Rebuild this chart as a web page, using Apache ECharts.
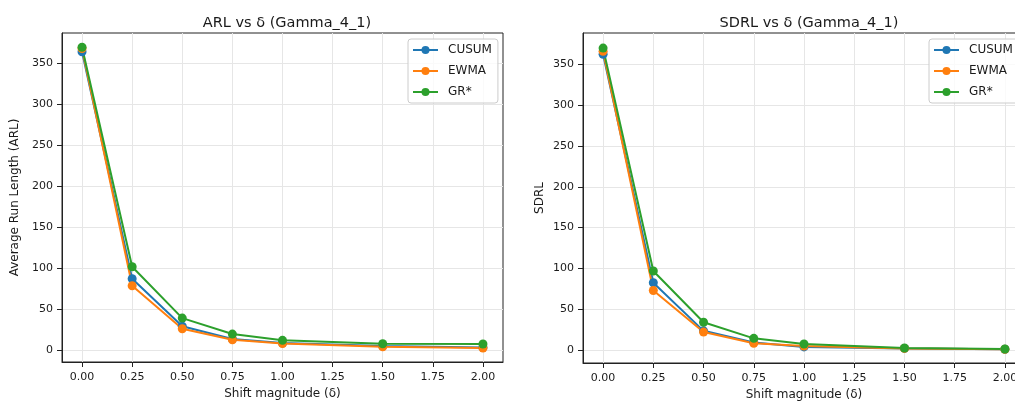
<!DOCTYPE html>
<html>
<head>
<meta charset="utf-8">
<script src="https://cdn.jsdelivr.net/npm/echarts@6/dist/echarts.min.js"></script>
<style>
html,body{margin:0;padding:0;background:#fff;}
#chart{width:1015px;height:402px;}
</style>
</head>
<body>
<div id="chart"></div>
<script>
// Shift magnitudes (x values)
const shifts = [0, 0.25, 0.5, 0.75, 1.0, 1.5, 2.0];
const xTicks = [0, 0.25, 0.5, 0.75, 1.0, 1.25, 1.5, 1.75, 2.0];
const yTicks = [0, 50, 100, 150, 200, 250, 300, 350];
const seriesNames = ['CUSUM', 'EWMA', 'GR*'];

// ARL values
const arlCusum = [364, 87, 29, 13.5, 8.5, 4.8, 3.2];
const arlEwma  = [368, 78.5, 26, 12.6, 8.0, 4.0, 2.4];
const arlGr    = [369.5, 101.7, 39, 19.5, 11.8, 7.7, 7.3];

// SDRL values
const sdrlCusum = [362.5, 82.5, 23.5, 9.3, 3.8, 2.0, 1.0];
const sdrlEwma  = [366, 73, 22, 8.2, 5.0, 2.0, 1.0];
const sdrlGr    = [370, 96.8, 34, 14.3, 7.4, 2.5, 1.3];

const colors = ['#1f77b4', '#ff7f0e', '#2ca02c'];
const FONT = 'DejaVu Sans';
const TXT = '#1a1a1a';

function pairs(xs, ys) { return xs.map((x, i) => [x, ys[i]]); }

function xAxisCfg(gi) {
  return {
    type: 'value', gridIndex: gi, min: -0.1, max: 2.1,
    name: 'Shift magnitude (δ)', nameLocation: 'middle', nameGap: 26,
    nameTextStyle: { fontFamily: FONT, fontSize: 12, color: TXT },
    axisLine: { show: true, onZero: false, lineStyle: { color: '#222', width: 1 } },
    axisTick: { show: true, length: 5, customValues: xTicks, lineStyle: { color: '#222' } },
    axisLabel: { customValues: xTicks, margin: 10, fontFamily: FONT, fontSize: 11, color: TXT,
      formatter: v => v.toFixed(2) },
    splitLine: { show: true, customValues: xTicks, lineStyle: { color: '#e6e6e6', width: 1 } }
  };
}
function yAxisCfg(gi, name, min, max, gap) {
  return {
    type: 'value', gridIndex: gi, min: min, max: max,
    name: name, nameLocation: 'middle', nameGap: gap,
    nameTextStyle: { fontFamily: FONT, fontSize: 12, color: TXT },
    axisLine: { show: true, onZero: false, lineStyle: { color: '#222', width: 1 } },
    axisTick: { show: true, length: 5, customValues: yTicks, lineStyle: { color: '#222' } },
    axisLabel: { customValues: yTicks, margin: 9, fontFamily: FONT, fontSize: 11, color: TXT },
    splitLine: { show: true, customValues: yTicks, lineStyle: { color: '#e6e6e6', width: 1 } }
  };
}
function lineSeries(name, gi, ys, color) {
  return {
    type: 'line', name: name, xAxisIndex: gi, yAxisIndex: gi,
    data: pairs(shifts, ys), symbol: 'circle', symbolSize: 9, showSymbol: true,
    color: color, lineStyle: { width: 2, color: color }, itemStyle: { color: color },
    animation: false
  };
}
function legendCfg(left) {
  return {
    left: left, top: 39, orient: 'vertical', data: seriesNames,
    itemWidth: 25, itemHeight: 10, itemGap: 9,
    padding: [5, 6, 5, 4],
    backgroundColor: 'rgba(255,255,255,0.8)', borderColor: '#cccccc', borderWidth: 1, borderRadius: 3,
    textStyle: { fontFamily: FONT, fontSize: 12, color: TXT, padding: [0, 0, 0, 5] }
  };
}

const chart = echarts.init(document.getElementById('chart'), null, { renderer: 'canvas' });
chart.setOption({
  backgroundColor: '#fff',
  animation: false,
  title: [
    { text: 'ARL vs δ (Gamma_4_1)', left: 282, top: 11, textAlign: 'center',
      textStyle: { fontFamily: FONT, fontSize: 14.5, fontWeight: 'normal', color: TXT } },
    { text: 'SDRL vs δ (Gamma_4_1)', left: 804, top: 11, textAlign: 'center',
      textStyle: { fontFamily: FONT, fontSize: 14.5, fontWeight: 'normal', color: TXT } }
  ],
  grid: [
    { left: 62, top: 33, width: 441, height: 329, show: true, borderColor: '#222', borderWidth: 1,
      backgroundColor: 'transparent', containLabel: false, outerBoundsMode: 'none' },
    { left: 583, top: 33, width: 442, height: 330, show: true, borderColor: '#222', borderWidth: 1,
      backgroundColor: 'transparent', containLabel: false, outerBoundsMode: 'none' }
  ],
  xAxis: [xAxisCfg(0), xAxisCfg(1)],
  yAxis: [
    yAxisCfg(0, 'Average Run Length (ARL)', -14.6, 386.9, 41),
    yAxisCfg(1, 'SDRL', -15.9, 388.5, 37)
  ],
  legend: [legendCfg(408), legendCfg(929)],
  series: [
    lineSeries('CUSUM', 0, arlCusum, colors[0]),
    lineSeries('EWMA', 0, arlEwma, colors[1]),
    lineSeries('GR*', 0, arlGr, colors[2]),
    lineSeries('CUSUM', 1, sdrlCusum, colors[0]),
    lineSeries('EWMA', 1, sdrlEwma, colors[1]),
    lineSeries('GR*', 1, sdrlGr, colors[2])
  ]
});
</script>
</body>
</html>
